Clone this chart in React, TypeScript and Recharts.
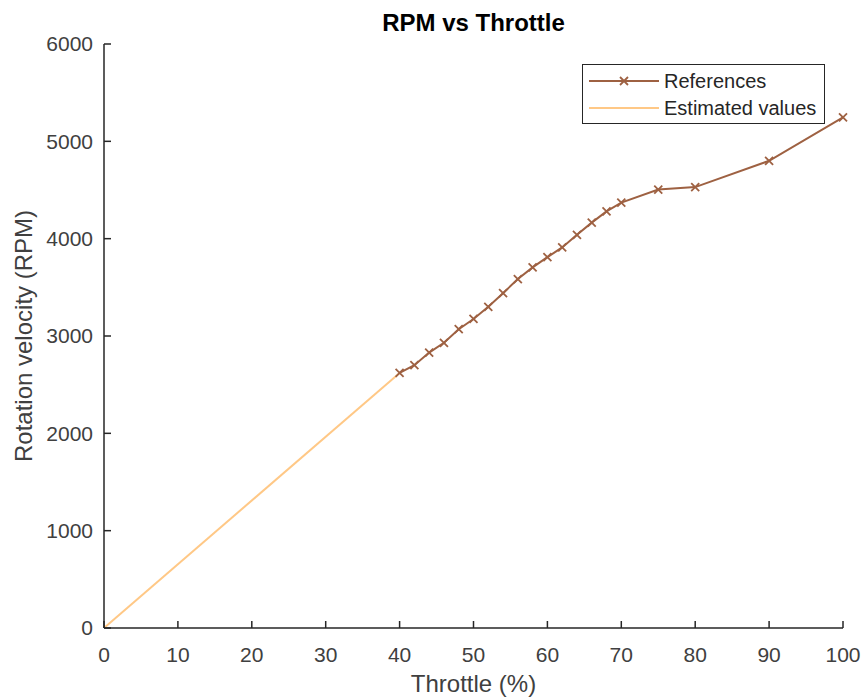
import { LineChart, Line, XAxis, YAxis, Legend, Label } from "recharts";

// throttle (%) of the measured reference points
const throttleRef = [40, 42, 44, 46, 48, 50, 52, 54, 56, 58, 60, 62, 64, 66, 68, 70, 75, 80, 90, 100];
// rotation velocity (RPM) of the reference points
const rpmRef = [
  2620, 2700, 2830, 2930, 3070, 3175, 3300, 3440, 3585, 3705, 3810, 3910, 4040, 4165, 4280, 4370,
  4505, 4530, 4800, 5245,
];
// estimated part, from zero up to the first reference
const throttleEst = [0, 40];
const rpmEst = [0, 2620];

const xTicks = [0, 10, 20, 30, 40, 50, 60, 70, 80, 90, 100];
const yTicks = [0, 1000, 2000, 3000, 4000, 5000, 6000];

const refData = throttleRef.map((x, i) => ({ x, rpm: rpmRef[i] }));
const estData = throttleEst.map((x, i) => ({ x, rpm: rpmEst[i] }));

const FONT = '"Liberation Sans", Arial, Helvetica, sans-serif';
const REF_COLOR = "#9E6142";
const EST_COLOR = "#FFC886";
const AXIS_COLOR = "#262626";
const TICK_COLOR = "#404040";

function CrossDot(props: any) {
  const { cx, cy, index } = props;
  if (cx == null || cy == null) return <g key={index} />;
  const s = 4;
  return (
    <path
      key={index}
      d={`M${cx - s},${cy - s}L${cx + s},${cy + s}M${cx - s},${cy + s}L${cx + s},${cy - s}`}
      stroke={REF_COLOR}
      strokeWidth={1.8}
      fill="none"
    />
  );
}

function LegendBox() {
  const row = (label: string, color: string, marker: boolean) => (
    <div style={{ display: "flex", alignItems: "center", height: 27 }}>
      <svg width={70} height={16} style={{ display: "block" }}>
        <line x1={0} y1={8} x2={70} y2={8} stroke={color} strokeWidth={2} />
        {marker && <path d="M31,4L39,12M31,12L39,4" stroke={color} strokeWidth={1.8} fill="none" />}
      </svg>
      <span style={{ marginLeft: 5 }}>{label}</span>
    </div>
  );
  return (
    <div
      style={{
        border: `1px solid ${AXIS_COLOR}`,
        background: "#fff",
        padding: "2px 8px 2px 6px",
        fontFamily: FONT,
        fontSize: 20,
        color: "#262626",
        lineHeight: 1,
      }}
    >
      {row("References", REF_COLOR, true)}
      {row("Estimated values", EST_COLOR, false)}
    </div>
  );
}

function YTitle(props: any) {
  const vb = props.viewBox || {};
  const cx = vb.x - 21;
  const cy = vb.y + vb.height / 2;
  return (
    <text
      x={cx}
      y={cy}
      transform={`rotate(-90, ${cx}, ${cy})`}
      textAnchor="middle"
      dominantBaseline="central"
      fontSize={24}
      fontFamily={FONT}
      fill={TICK_COLOR}
    >
      Rotation velocity (RPM)
    </text>
  );
}

export default function App() {
  return (
    <div style={{ position: "absolute", left: 0, top: 0, width: 863, height: 699, background: "#fff" }}>
      <div
        style={{
          position: "absolute",
          left: 104,
          width: 739,
          top: 9,
          textAlign: "center",
          fontFamily: FONT,
          fontWeight: "bold",
          fontSize: 24,
          lineHeight: "28px",
          color: "#000",
        }}
      >
        RPM vs Throttle
      </div>
      <LineChart width={863} height={699} margin={{ top: 44, right: 20, bottom: 31, left: 44 }}>
        <XAxis
          type="number"
          dataKey="x"
          domain={[0, 100]}
          ticks={xTicks}
          interval={0}
          height={40}
          tickSize={-7}
          tickMargin={26}
          axisLine={{ stroke: AXIS_COLOR, strokeWidth: 1.5 }}
          tickLine={{ stroke: AXIS_COLOR, strokeWidth: 1.5 }}
          tick={{ fill: TICK_COLOR, fontSize: 21, fontFamily: FONT }}
        >
          <Label
            value="Throttle (%)"
            position="bottom"
            offset={7}
            fill={TICK_COLOR}
            fontSize={24}
            fontFamily={FONT}
          />
        </XAxis>
        <YAxis
          type="number"
          domain={[0, 6000]}
          ticks={yTicks}
          interval={0}
          width={60}
          tickSize={-7}
          tickMargin={18}
          axisLine={{ stroke: AXIS_COLOR, strokeWidth: 1.5 }}
          tickLine={{ stroke: AXIS_COLOR, strokeWidth: 1.5 }}
          tick={{ fill: TICK_COLOR, fontSize: 21, fontFamily: FONT }}
        >
          <Label content={<YTitle />} />
        </YAxis>
        <Legend
          layout="vertical"
          align="center"
          verticalAlign="middle"
          content={<LegendBox />}
          wrapperStyle={{ left: 582, top: 64, width: "auto", height: "auto" }}
        />
        <Line
          data={estData}
          dataKey="rpm"
          type="linear"
          stroke={EST_COLOR}
          strokeWidth={2}
          dot={false}
          activeDot={false}
          isAnimationActive={false}
        />
        <Line
          data={refData}
          dataKey="rpm"
          type="linear"
          stroke={REF_COLOR}
          strokeWidth={2}
          dot={CrossDot}
          activeDot={false}
          isAnimationActive={false}
        />
      </LineChart>
    </div>
  );
}
